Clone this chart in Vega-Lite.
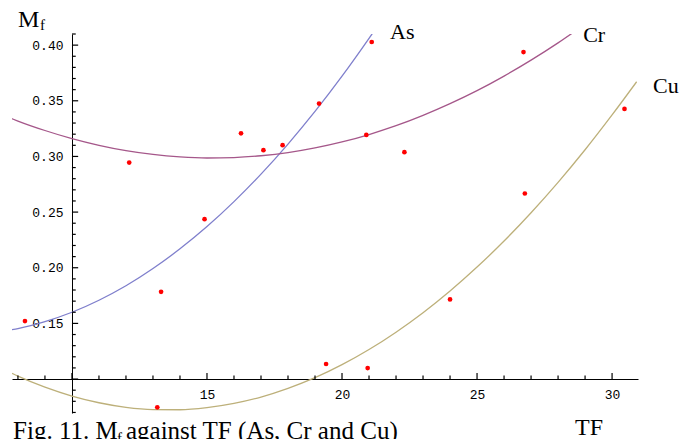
{
  "$schema": "https://vega.github.io/schema/vega-lite/v6.json",
  "width": 626,
  "height": 379,
  "autosize": {"type": "none"},
  "padding": {"left": 12, "top": 34, "right": 57, "bottom": 26},
  "background": "white",
  "config": {"view": {"stroke": null}},
  "datasets": {
    "curves": [
      {"series": "As", "x": 7.78, "y": 0.1444}, {"series": "As", "x": 8, "y": 0.1454}, {"series": "As", "x": 9, "y": 0.1516}, {"series": "As", "x": 10, "y": 0.16}, {"series": "As", "x": 11, "y": 0.1708}, {"series": "As", "x": 12, "y": 0.1838}, {"series": "As", "x": 13, "y": 0.1993}, {"series": "As", "x": 14, "y": 0.217}, {"series": "As", "x": 15, "y": 0.237}, {"series": "As", "x": 16, "y": 0.2594}, {"series": "As", "x": 17, "y": 0.2841}, {"series": "As", "x": 18, "y": 0.3111}, {"series": "As", "x": 19, "y": 0.3404}, {"series": "As", "x": 20, "y": 0.3721}, {"series": "As", "x": 21, "y": 0.4061}, {"series": "As", "x": 21.14, "y": 0.411},
      {"series": "Cr", "x": 7.78, "y": 0.3339}, {"series": "Cr", "x": 8, "y": 0.3318}, {"series": "Cr", "x": 9, "y": 0.3233}, {"series": "Cr", "x": 10, "y": 0.316}, {"series": "Cr", "x": 11, "y": 0.31}, {"series": "Cr", "x": 12, "y": 0.3052}, {"series": "Cr", "x": 13, "y": 0.3018}, {"series": "Cr", "x": 14, "y": 0.2996}, {"series": "Cr", "x": 15, "y": 0.2986}, {"series": "Cr", "x": 16, "y": 0.299}, {"series": "Cr", "x": 17, "y": 0.3006}, {"series": "Cr", "x": 18, "y": 0.3034}, {"series": "Cr", "x": 19, "y": 0.3076}, {"series": "Cr", "x": 20, "y": 0.313}, {"series": "Cr", "x": 21, "y": 0.3197}, {"series": "Cr", "x": 22, "y": 0.3276}, {"series": "Cr", "x": 23, "y": 0.3369}, {"series": "Cr", "x": 24, "y": 0.3474}, {"series": "Cr", "x": 25, "y": 0.3591}, {"series": "Cr", "x": 26, "y": 0.3722}, {"series": "Cr", "x": 27, "y": 0.3865}, {"series": "Cr", "x": 28, "y": 0.402}, {"series": "Cr", "x": 28.54, "y": 0.411},
      {"series": "Cu", "x": 7.78, "y": 0.1051}, {"series": "Cu", "x": 8, "y": 0.1026}, {"series": "Cu", "x": 9, "y": 0.0927}, {"series": "Cu", "x": 10, "y": 0.0847}, {"series": "Cu", "x": 11, "y": 0.0787}, {"series": "Cu", "x": 12, "y": 0.0746}, {"series": "Cu", "x": 13, "y": 0.0726}, {"series": "Cu", "x": 14, "y": 0.0724}, {"series": "Cu", "x": 15, "y": 0.0743}, {"series": "Cu", "x": 16, "y": 0.0781}, {"series": "Cu", "x": 17, "y": 0.0838}, {"series": "Cu", "x": 18, "y": 0.0916}, {"series": "Cu", "x": 19, "y": 0.1012}, {"series": "Cu", "x": 20, "y": 0.1129}, {"series": "Cu", "x": 21, "y": 0.1265}, {"series": "Cu", "x": 22, "y": 0.1421}, {"series": "Cu", "x": 23, "y": 0.1596}, {"series": "Cu", "x": 24, "y": 0.1791}, {"series": "Cu", "x": 25, "y": 0.2006}, {"series": "Cu", "x": 26, "y": 0.224}, {"series": "Cu", "x": 27, "y": 0.2494}, {"series": "Cu", "x": 28, "y": 0.2767}, {"series": "Cu", "x": 29, "y": 0.306}, {"series": "Cu", "x": 30, "y": 0.3373}, {"series": "Cu", "x": 30.91, "y": 0.3671}
    ],
    "points": [
      {"x": 8.26, "y": 0.1521}, {"x": 12.12, "y": 0.2945}, {"x": 13.3, "y": 0.1784}, {"x": 13.16, "y": 0.0746}, {"x": 14.91, "y": 0.2436}, {"x": 16.26, "y": 0.3208}, {"x": 17.09, "y": 0.3056}, {"x": 17.8, "y": 0.3101}, {"x": 19.15, "y": 0.3475}, {"x": 20.9, "y": 0.3193}, {"x": 22.31, "y": 0.3038}, {"x": 26.77, "y": 0.2667}, {"x": 19.41, "y": 0.1135}, {"x": 20.95, "y": 0.1099}, {"x": 26.72, "y": 0.3938}, {"x": 30.46, "y": 0.3427}, {"x": 21.1, "y": 0.4028}, {"x": 24.0, "y": 0.1715}
    ],
    "xMajor": [{"v": 10}, {"v": 15}, {"v": 20}, {"v": 25}, {"v": 30}],
    "xMinor": [{"v": 8}, {"v": 9}, {"v": 11}, {"v": 12}, {"v": 13}, {"v": 14}, {"v": 16}, {"v": 17}, {"v": 18}, {"v": 19}, {"v": 21}, {"v": 22}, {"v": 23}, {"v": 24}, {"v": 26}, {"v": 27}, {"v": 28}, {"v": 29}],
    "yMajor": [{"v": 0.1}, {"v": 0.15}, {"v": 0.2}, {"v": 0.25}, {"v": 0.3}, {"v": 0.35}, {"v": 0.4}],
    "yMinor": [{"v": 0.07}, {"v": 0.08}, {"v": 0.09}, {"v": 0.11}, {"v": 0.12}, {"v": 0.13}, {"v": 0.14}, {"v": 0.16}, {"v": 0.17}, {"v": 0.18}, {"v": 0.19}, {"v": 0.21}, {"v": 0.22}, {"v": 0.23}, {"v": 0.24}, {"v": 0.26}, {"v": 0.27}, {"v": 0.28}, {"v": 0.29}, {"v": 0.31}, {"v": 0.32}, {"v": 0.33}, {"v": 0.34}, {"v": 0.36}, {"v": 0.37}, {"v": 0.38}, {"v": 0.39}, {"v": 0.41}],
    "seriesLabels": [
      {"text": "As", "x": 21.78, "y": 0.4052},
      {"text": "Cr", "x": 28.93, "y": 0.4028},
      {"text": "Cu", "x": 31.52, "y": 0.3567}
    ],
    "bigLabels": [
      {"text": "M", "x": 8.0, "y": 0.4163},
      {"text": "TF", "x": 28.63, "y": 0.0497}
    ],
    "captionLabels": [
      {"text": "Fig. 11. M", "x": 7.82, "y": 0.046},
      {"text": "against TF (As, Cr and Cu)", "x": 12.0, "y": 0.046}
    ],
    "subLabels": [
      {"text": "f", "x": 8.82, "y": 0.4133},
      {"text": "f", "x": 11.67, "y": 0.0425}
    ]
  },
  "layer": [
    {
      "data": {"name": "curves"},
      "mark": {"type": "line", "interpolate": "monotone", "strokeWidth": 1.3, "clip": true},
      "encoding": {
        "x": {
          "field": "x", "type": "quantitative",
          "scale": {"domain": [7.78, 30.96], "nice": false, "zero": false},
          "axis": {
            "orient": "bottom",
            "values": [15, 20, 25, 30],
            "offset": -34,
            "title": null,
            "grid": false,
            "ticks": false,
            "domainColor": "black", "domainWidth": 1,
            "labelFont": "Liberation Mono", "labelFontSize": 13, "labelColor": "black",
            "labelPadding": 9, "labelOverlap": false, "labelFlush": false
          }
        },
        "y": {
          "field": "y", "type": "quantitative",
          "scale": {"domain": [0.0695, 0.41], "nice": false, "zero": false},
          "axis": {
            "orient": "left",
            "values": [0.15, 0.2, 0.25, 0.3, 0.35, 0.4],
            "format": ".2f",
            "offset": -60,
            "title": null,
            "grid": false,
            "ticks": false,
            "domainColor": "black", "domainWidth": 1,
            "labelFont": "Liberation Mono", "labelFontSize": 13, "labelColor": "black",
            "labelPadding": 9, "labelOverlap": false, "labelFlush": false
          }
        },
        "color": {
          "field": "series", "type": "nominal",
          "scale": {"domain": ["As", "Cr", "Cu"], "range": ["#7f7fcc", "#a5578a", "#bdb07a"]},
          "legend": null
        }
      }
    },
    {
      "data": {"name": "xMajor"},
      "mark": {"type": "rule", "color": "black", "strokeWidth": 1.2},
      "encoding": {
        "x": {"field": "v", "type": "quantitative"},
        "y": {"datum": 0.1, "type": "quantitative"},
        "y2": {"datum": 0.1055}
      }
    },
    {
      "data": {"name": "xMinor"},
      "mark": {"type": "rule", "color": "black", "strokeWidth": 1.2},
      "encoding": {
        "x": {"field": "v", "type": "quantitative"},
        "y": {"datum": 0.1, "type": "quantitative"},
        "y2": {"datum": 0.1033}
      }
    },
    {
      "data": {"name": "yMajor"},
      "mark": {"type": "rule", "color": "black", "strokeWidth": 1.2},
      "encoding": {
        "y": {"field": "v", "type": "quantitative"},
        "x": {"datum": 10, "type": "quantitative"},
        "x2": {"datum": 10.23}
      }
    },
    {
      "data": {"name": "yMinor"},
      "mark": {"type": "rule", "color": "black", "strokeWidth": 1.2},
      "encoding": {
        "y": {"field": "v", "type": "quantitative"},
        "x": {"datum": 10, "type": "quantitative"},
        "x2": {"datum": 10.14}
      }
    },
    {
      "data": {"name": "points"},
      "mark": {"type": "circle", "color": "#ff0000", "size": 22, "opacity": 1},
      "encoding": {
        "x": {"field": "x", "type": "quantitative"},
        "y": {"field": "y", "type": "quantitative"}
      }
    },
    {
      "data": {"name": "seriesLabels"},
      "mark": {"type": "text", "font": "Liberation Serif", "fontSize": 22, "align": "left", "baseline": "alphabetic", "color": "black"},
      "encoding": {
        "x": {"field": "x", "type": "quantitative"},
        "y": {"field": "y", "type": "quantitative"},
        "text": {"field": "text"}
      }
    },
    {
      "data": {"name": "bigLabels"},
      "mark": {"type": "text", "font": "Liberation Serif", "fontSize": 24, "align": "left", "baseline": "alphabetic", "color": "black"},
      "encoding": {
        "x": {"field": "x", "type": "quantitative"},
        "y": {"field": "y", "type": "quantitative"},
        "text": {"field": "text"}
      }
    },
    {
      "data": {"name": "captionLabels"},
      "mark": {"type": "text", "font": "Liberation Serif", "fontSize": 25, "align": "left", "baseline": "alphabetic", "color": "black"},
      "encoding": {
        "x": {"field": "x", "type": "quantitative"},
        "y": {"field": "y", "type": "quantitative"},
        "text": {"field": "text"}
      }
    },
    {
      "data": {"name": "subLabels"},
      "mark": {"type": "text", "font": "Liberation Serif", "fontSize": 15, "align": "left", "baseline": "alphabetic", "color": "black"},
      "encoding": {
        "x": {"field": "x", "type": "quantitative"},
        "y": {"field": "y", "type": "quantitative"},
        "text": {"field": "text"}
      }
    }
  ]
}
